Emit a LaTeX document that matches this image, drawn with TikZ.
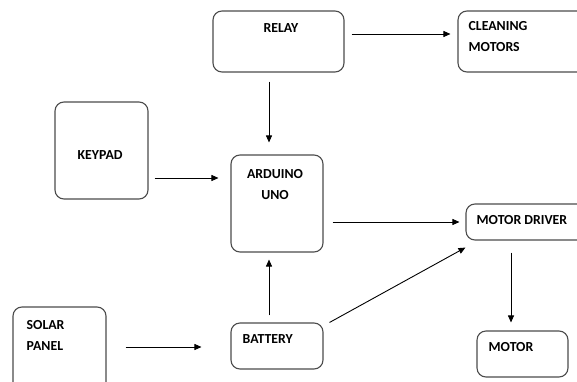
\documentclass[tikz,border=0pt]{standalone}
\usepackage{fontspec}
\setmainfont{Carlito}
\usetikzlibrary{arrows.meta}

\begin{document}
\begin{tikzpicture}[x=1pt, y=1pt, >={Triangle[length=7pt,width=6pt]},
    blk/.style={draw=black!70, line width=1.1pt, rounded corners=9pt, inner sep=0pt},
    lbl/.style={font=\fontsize{13.8}{21}\selectfont\bfseries, inner sep=0pt, align=left},
    arr/.style={->, line width=0.9pt}]
    \useasboundingbox (0,0) rectangle (577,381);
    \fill[white] (0,0) rectangle (577,381);

    % Blocks
    \node [blk, minimum width=131pt, minimum height=61pt] (relay)   at (278.5,339.5) {};
    \node [blk, minimum width=132pt, minimum height=61pt] (clean)   at (524,339.5)   {};
    \node [blk, minimum width=93pt,  minimum height=97pt] (keypad)  at (101.5,230.5) {};
    \node [blk, minimum width=92pt,  minimum height=97pt] (uno)     at (277,177.5)   {};
    \node [blk, minimum width=124pt, minimum height=36pt] (driver)  at (528,159)     {};
    \node [blk, minimum width=91pt,  minimum height=46pt] (motor)   at (522.5,27)    {};
    \node [blk, minimum width=93pt,  minimum height=88pt] (solar)   at (59.5,30)     {};
    \node [blk, minimum width=92pt,  minimum height=46pt] (battery) at (277,35)      {};

    % Labels (two-line labels sit on their last baseline)
    \node [lbl, anchor=base west] (relay-t)   at ([shift={(51pt,-22pt)}]relay.north west)   {RELAY};
    \node [lbl, anchor=base west] (clean-t)   at ([shift={(11pt,-41pt)}]clean.north west)   {CLEANING\\MOTORS};
    \node [lbl, anchor=base west] (keypad-t)  at ([shift={(23pt,-58pt)}]keypad.north west)  {KEYPAD};
    \node [lbl, anchor=base, align=center] (uno-t) at ([shift={(-2pt,-45pt)}]uno.north)    {ARDUINO\\UNO};
    \node [lbl, anchor=base west] (driver-t)  at ([shift={(11pt,-21pt)}]driver.north west)  {MOTOR DRIVER};
    \node [lbl, anchor=base west] (motor-t)   at ([shift={(12pt,-21pt)}]motor.north west)   {MOTOR};
    \node [lbl, anchor=base west] (solar-t)   at ([shift={(14pt,-44.5pt)}]solar.north west) {SOLAR\\PANEL};
    \node [lbl, anchor=base west] (battery-t) at ([shift={(12pt,-21pt)}]battery.north west) {BATTERY};

    % Connections
    \draw [arr] ([shift={(7pt,7.5pt)}]relay.east)      -- ([shift={(-7pt,7.5pt)}]clean.west);
    \draw [arr] ([shift={(-9.5pt,-9pt)}]relay.south)   -- ([shift={(-8pt,12pt)}]uno.north);
    \draw [arr] ([shift={(6pt,-27.5pt)}]keypad.east)   -- ([shift={(-12pt,25.5pt)}]uno.west);
    \draw [arr] ([shift={(9pt,-18.5pt)}]uno.east)      -- ([shift={(-6pt,0pt)}]driver.west);
    \draw [arr] ([shift={(-17pt,-12pt)}]driver.south)  -- ([shift={(-11.5pt,8pt)}]motor.north);
    \draw [arr] ([shift={(19pt,4pt)}]solar.east)       -- ([shift={(-29pt,-1pt)}]battery.west);
    \draw [arr] ([shift={(-8pt,7pt)}]battery.north)    -- ([shift={(-8pt,-7pt)}]uno.south);
    \draw [arr] ([shift={(6pt,0pt)}]battery.north east) -- ([shift={(0pt,-7pt)}]driver.south west);
\end{tikzpicture}
\end{document}
